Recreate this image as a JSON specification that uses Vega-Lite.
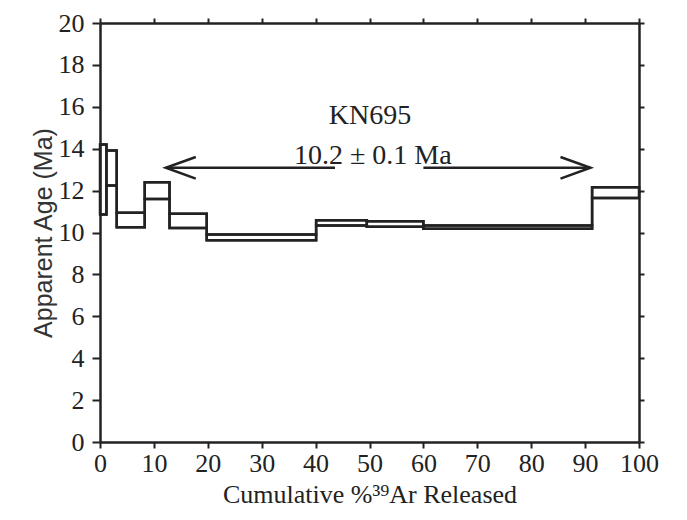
{
  "$schema": "https://vega.github.io/schema/vega-lite/v6.json",
  "width": 539,
  "height": 419,
  "autosize": {"type": "none"},
  "padding": {"left": 100, "top": 23, "right": 48, "bottom": 78},
  "background": "white",
  "config": {
    "font": "Liberation Serif",
    "view": {"stroke": null},
    "axis": {
      "domainColor": "#222",
      "domainWidth": 2.5,
      "tickColor": "#222",
      "tickWidth": 2,
      "labelFont": "Liberation Serif",
      "labelFontSize": 26,
      "labelColor": "#222",
      "labelFlush": false,
      "labelOverlap": false,
      "grid": false
    }
  },
  "datasets": {
    "steps": [
      {"x0": 0, "x1": 1.2, "lo": 10.86, "hi": 14.2},
      {"x0": 1.2, "x1": 3.1, "lo": 12.24, "hi": 13.92},
      {"x0": 3.1, "x1": 8.3, "lo": 10.25, "hi": 10.94},
      {"x0": 8.3, "x1": 12.9, "lo": 11.6, "hi": 12.4},
      {"x0": 12.9, "x1": 19.8, "lo": 10.22, "hi": 10.89},
      {"x0": 19.8, "x1": 40.1, "lo": 9.63, "hi": 9.9},
      {"x0": 40.1, "x1": 49.5, "lo": 10.33, "hi": 10.59},
      {"x0": 49.5, "x1": 60.0, "lo": 10.27, "hi": 10.54},
      {"x0": 60.0, "x1": 91.3, "lo": 10.18, "hi": 10.33},
      {"x0": 91.3, "x1": 100, "lo": 11.65, "hi": 12.16}
    ],
    "envelope": [
      {"x": 0, "lo": 10.86, "hi": 14.2},
      {"x": 1.2, "lo": 12.24, "hi": 13.92},
      {"x": 3.1, "lo": 10.25, "hi": 10.94},
      {"x": 8.3, "lo": 11.6, "hi": 12.4},
      {"x": 12.9, "lo": 10.22, "hi": 10.89},
      {"x": 19.8, "lo": 9.63, "hi": 9.9},
      {"x": 40.1, "lo": 10.33, "hi": 10.59},
      {"x": 49.5, "lo": 10.27, "hi": 10.54},
      {"x": 60.0, "lo": 10.18, "hi": 10.33},
      {"x": 91.3, "lo": 11.65, "hi": 12.16},
      {"x": 100, "lo": 11.65, "hi": 12.16}
    ],
    "arrows": [
      {"xs": 12.2, "xe": 43.6, "y": 13.09},
      {"xs": 60.0, "xe": 91.0, "y": 13.09}
    ],
    "tips": [
      {"x": 12.2, "y": 13.09, "dir": "left"},
      {"x": 91.0, "y": 13.09, "dir": "right"}
    ],
    "labels": [
      {"x": 50.1, "y": 15.55, "text": "KN695"},
      {"x": 50.6, "y": 13.64, "text": "10.2 ± 0.1 Ma"}
    ]
  },
  "layer": [
    {
      "data": {"name": "steps"},
      "mark": {"type": "rect", "filled": false, "stroke": "#222", "strokeWidth": 2.5},
      "encoding": {
        "x": {
          "field": "x0", "type": "quantitative",
          "scale": {"domain": [0, 100], "nice": false, "zero": false},
          "axis": {"orient": "bottom", "values": [0,10,20,30,40,50,60,70,80,90,100], "tickSize": 6, "tickWidth": 2, "labelPadding": 2,
                   "labelFlush": false,
                   "title": "Cumulative %³⁹Ar Released", "titleFont": "Liberation Serif", "titleFontSize": 26,
                   "titleFontWeight": "normal", "titleColor": "#222", "titlePadding": 5}
        },
        "x2": {"field": "x1"},
        "y": {
          "field": "lo", "type": "quantitative",
          "scale": {"domain": [0, 20], "nice": false},
          "axis": {"orient": "left", "values": [0,2,4,6,8,10,12,14,16,18,20], "tickSize": 8, "tickWidth": 2, "labelPadding": 8,
                   "labelFlush": false,
                   "title": "Apparent Age (Ma)", "titleFont": "Liberation Sans", "titleFontSize": 25,
                   "titleFontWeight": "normal", "titleColor": "#333", "titlePadding": 2}
        },
        "y2": {"field": "hi"}
      }
    },
    {
      "data": {"name": "arrows"},
      "mark": {"type": "rule", "stroke": "#222", "strokeWidth": 2.5},
      "encoding": {
        "x": {"field": "xs", "type": "quantitative",
              "axis": {"orient": "top", "values": [0,10,20,30,40,50,60,70,80,90,100], "labels": false, "tickSize": 5, "tickWidth": 2, "title": null}},
        "x2": {"field": "xe"},
        "y": {"field": "y", "type": "quantitative",
              "axis": {"orient": "right", "values": [0,2,4,6,8,10,12,14,16,18,20], "labels": false, "tickSize": 5, "tickWidth": 2, "title": null}}
      }
    },
    {
      "data": {"name": "envelope"},
      "mark": {"type": "line", "interpolate": "step-after", "stroke": "#222", "strokeWidth": 2.5},
      "encoding": {
        "x": {"field": "x", "type": "quantitative", "axis": null},
        "y": {"field": "hi", "type": "quantitative", "axis": null}
      }
    },
    {
      "data": {"name": "envelope"},
      "mark": {"type": "line", "interpolate": "step-after", "stroke": "#222", "strokeWidth": 2.5},
      "encoding": {
        "x": {"field": "x", "type": "quantitative", "axis": null},
        "y": {"field": "lo", "type": "quantitative", "axis": null}
      }
    },
    {
      "data": {"name": "tips"},
      "transform": [{"filter": "datum.dir == 'left'"}],
      "mark": {"type": "point", "shape": "M1,-0.36L0,0L1,0.36", "size": 3600, "filled": false, "stroke": "#222", "strokeWidth": 2.5, "opacity": 1},
      "encoding": {
        "x": {"field": "x", "type": "quantitative", "axis": null},
        "y": {"field": "y", "type": "quantitative", "axis": null}
      }
    },
    {
      "data": {"name": "tips"},
      "transform": [{"filter": "datum.dir == 'right'"}],
      "mark": {"type": "point", "shape": "M-1,-0.36L0,0L-1,0.36", "size": 3600, "filled": false, "stroke": "#222", "strokeWidth": 2.5, "opacity": 1},
      "encoding": {
        "x": {"field": "x", "type": "quantitative", "axis": null},
        "y": {"field": "y", "type": "quantitative", "axis": null}
      }
    },
    {
      "data": {"name": "labels"},
      "mark": {"type": "text", "font": "Liberation Serif", "fontSize": 28, "color": "#222", "align": "center", "baseline": "middle"},
      "encoding": {
        "x": {"field": "x", "type": "quantitative", "axis": null},
        "y": {"field": "y", "type": "quantitative", "axis": null},
        "text": {"field": "text"}
      }
    }
  ],
  "resolve": {"axis": {"x": "independent", "y": "independent"}}
}
